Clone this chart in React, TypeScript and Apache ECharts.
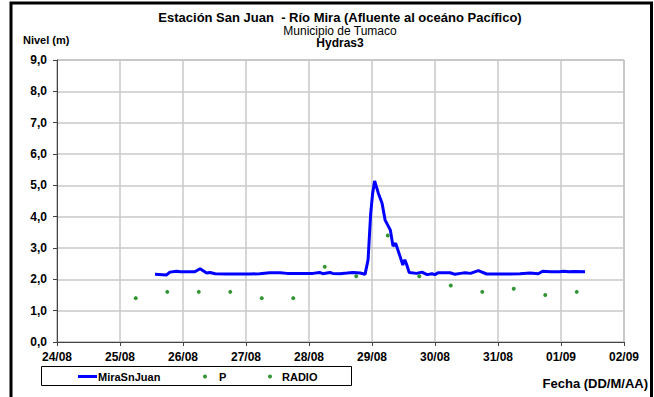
import React, { useEffect, useRef } from "react";
import * as echarts from "echarts";

const YEAR = 2013;
const lineTimes = [
  "25/08 13:20", "25/08 17:45", "25/08 19:00", "25/08 21:30", "25/08 23:00",
  "26/08 04:30", "26/08 06:30", "26/08 09:00", "26/08 10:20", "26/08 12:15",
  "26/08 16:20", "27/08 01:30", "27/08 05:15", "27/08 09:00", "27/08 13:00",
  "27/08 15:40", "28/08 01:30", "28/08 04:00", "28/08 05:15", "28/08 08:00",
  "28/08 09:00", "28/08 11:45", "28/08 14:30", "28/08 16:50", "28/08 19:30",
  "28/08 21:20", "28/08 22:30", "28/08 23:30", "29/08 00:15", "29/08 01:00",
  "29/08 02:25", "29/08 03:50", "29/08 05:00", "29/08 07:00", "29/08 08:00",
  "29/08 09:00", "29/08 10:30", "29/08 11:45", "29/08 12:30", "29/08 13:10",
  "29/08 14:10", "29/08 17:00", "29/08 19:00", "29/08 21:00", "29/08 22:50",
  "30/08 00:00", "30/08 01:10", "30/08 05:45", "30/08 07:40", "30/08 09:40",
  "30/08 11:30", "30/08 13:30", "30/08 16:30", "30/08 19:40", "31/08 00:45",
  "31/08 04:30", "31/08 08:20", "31/08 12:15", "31/08 15:20", "31/08 17:00",
  "31/08 20:00", "31/08 23:30", "01/09 01:00", "01/09 03:00", "01/09 04:50",
  "01/09 09:10",
];
const lineValues = [
  2.16, 2.14, 2.23, 2.26, 2.24,
  2.24, 2.34, 2.2, 2.22, 2.18,
  2.17, 2.17, 2.18, 2.21, 2.21,
  2.19, 2.19, 2.22, 2.18, 2.22,
  2.19, 2.18, 2.2, 2.22, 2.2,
  2.16, 2.62, 4.1, 4.75, 5.14,
  4.75, 4.43, 3.89, 3.57, 3.06,
  3.15, 2.78, 2.46, 2.62, 2.48,
  2.22, 2.19, 2.23, 2.15, 2.18,
  2.15, 2.21, 2.21, 2.16, 2.19,
  2.21, 2.19, 2.28, 2.17, 2.17,
  2.17, 2.18, 2.2, 2.18, 2.26,
  2.24, 2.24, 2.26, 2.24, 2.25,
  2.24,
];
const pTimes = ["25/08 06:00", "26/08 06:00", "27/08 06:00", "28/08 06:00", "29/08 06:00", "30/08 06:00", "31/08 06:00", "01/09 06:00"];
const pValues = [1.4, 1.6, 1.4, 2.4, 3.4, 1.8, 1.7, 1.6];
const radioTimes = ["25/08 18:00", "26/08 18:00", "27/08 18:00", "28/08 18:00", "29/08 18:00", "30/08 18:00", "31/08 18:00"];
const radioValues = [1.6, 1.6, 1.4, 2.1, 2.1, 1.6, 1.5];
const xMinLabel = "24/08 00:00";
const xMaxLabel = "02/09 00:00";

function parseT(s: string): number {
  const [d, t] = s.split(" ");
  const [dd, mm] = d.split("/").map(Number);
  const [h, mi] = t.split(":").map(Number);
  return Date.UTC(YEAR, mm - 1, dd, h, mi);
}

const FONT = "'Liberation Sans', Arial, sans-serif";

export default function App() {
  const ref = useRef<HTMLDivElement>(null);
  useEffect(() => {
    if (!ref.current) return;
    const chart = echarts.init(ref.current, undefined, { renderer: "svg" });
    const DAY = 86400000;
    chart.setOption({
      animation: false,
      useUTC: true,
      backgroundColor: "#ffffff",
      textStyle: { fontFamily: FONT },
      title: [
        {
          text: "Estación San Juan  - Río Mira (Afluente al oceáno Pacífico)",
          left: 340, top: 11, textAlign: "center", padding: 0,
          textStyle: { fontSize: 13, lineHeight: 13, fontWeight: "bold", color: "#000", fontFamily: FONT },
        },
        {
          text: "Municipio de Tumaco",
          left: 340, top: 24.5, textAlign: "center", padding: 0,
          textStyle: { fontSize: 12, lineHeight: 12, fontWeight: "normal", color: "#000", fontFamily: FONT },
        },
        {
          text: "Hydras3",
          left: 340, top: 37, textAlign: "center", padding: 0,
          textStyle: { fontSize: 12, lineHeight: 12, fontWeight: "bold", color: "#000", fontFamily: FONT },
        },
        {
          text: "Nivel (m)",
          left: 23, top: 34, padding: 0,
          textStyle: { fontSize: 11, lineHeight: 12, fontWeight: "bold", color: "#000", fontFamily: FONT },
        },
        {
          text: "Fecha (DD/M/AA)",
          right: 6, top: 377, padding: 0,
          textStyle: { fontSize: 13, lineHeight: 13, fontWeight: "bold", color: "#000", fontFamily: FONT },
        },
      ],
      grid: {
        left: 57, right: 30, top: 60, bottom: 55, containLabel: false,
        show: true, borderColor: "#8c8c8c", borderWidth: 1,
      },
      xAxis: {
        type: "value",
        min: parseT(xMinLabel),
        max: parseT(xMaxLabel),
        interval: DAY,
        axisLine: { show: true, lineStyle: { color: "#444", width: 1 } },
        axisTick: { show: true, length: 4, lineStyle: { color: "#444" } },
        axisLabel: {
          fontSize: 12, fontWeight: "bold", color: "#000", margin: 9, fontFamily: FONT,
          formatter: (v: number) => {
            const d = new Date(v);
            const dd = String(d.getUTCDate()).padStart(2, "0");
            const mm = String(d.getUTCMonth() + 1).padStart(2, "0");
            return dd + "/" + mm;
          },
        },
        splitLine: { show: true, lineStyle: { color: "#c8c8c8", width: 1.5 } },
      },
      yAxis: {
        type: "value",
        min: 0, max: 9, interval: 1,
        axisLine: { show: true, lineStyle: { color: "#444", width: 1 } },
        axisTick: { show: true, length: 4, lineStyle: { color: "#444" } },
        axisLabel: {
          fontSize: 12, fontWeight: "bold", color: "#000", margin: 10, fontFamily: FONT,
          formatter: (v: number) => v.toFixed(1).replace(".", ","),
        },
        splitLine: { show: true, lineStyle: { color: "#c8c8c8", width: 1.5 } },
      },
      legend: [
        {
          data: [{ name: "MiraSnJuan", icon: "rect" }],
          left: 78, top: 371, itemWidth: 19, itemHeight: 3, itemGap: 0, padding: 0,
          textStyle: { fontSize: 11, fontWeight: "bold", color: "#000", fontFamily: FONT, padding: [0, 0, 0, -4] },
        },
        {
          data: [{ name: "P", icon: "circle" }],
          left: 203, top: 371, itemWidth: 4, itemHeight: 4, padding: 0,
          textStyle: { fontSize: 11, fontWeight: "bold", color: "#000", fontFamily: FONT, padding: [0, 0, 0, 7] },
        },
        {
          data: [{ name: "RADIO", icon: "circle" }],
          left: 268, top: 371, itemWidth: 4, itemHeight: 4, padding: 0,
          textStyle: { fontSize: 11, fontWeight: "bold", color: "#000", fontFamily: FONT, padding: [0, 0, 0, 5] },
        },
      ],
      graphic: [
        {
          type: "rect",
          shape: { x: 11, y: 3, width: 640.5, height: 400 },
          style: { fill: "none", stroke: "#000", lineWidth: 3 },
          silent: true,
        },
        {
          type: "rect",
          shape: { x: 41.5, y: 366.5, width: 310, height: 19 },
          style: { fill: "none", stroke: "#000", lineWidth: 1 },
          silent: true,
        },
      ],
      series: [
        {
          name: "MiraSnJuan",
          type: "line",
          data: lineTimes.map((t, i) => [parseT(t), lineValues[i]]),
          showSymbol: false,
          symbol: "none",
          lineStyle: { color: "#0000ff", width: 3 },
          itemStyle: { color: "#0000ff" },
          z: 3,
        },
        {
          name: "P",
          type: "scatter",
          data: pTimes.map((t, i) => [parseT(t), pValues[i]]),
          symbol: "circle",
          symbolSize: 4,
          itemStyle: { color: "#007a00" },
          z: 4,
        },
        {
          name: "RADIO",
          type: "scatter",
          data: radioTimes.map((t, i) => [parseT(t), radioValues[i]]),
          symbol: "circle",
          symbolSize: 4,
          itemStyle: { color: "#007a00" },
          z: 4,
        },
      ],
    });
    return () => chart.dispose();
  }, []);
  return (
    <div
      ref={ref}
      style={{ position: "fixed", left: 0, top: 0, width: 654, height: 397 }}
    />
  );
}
